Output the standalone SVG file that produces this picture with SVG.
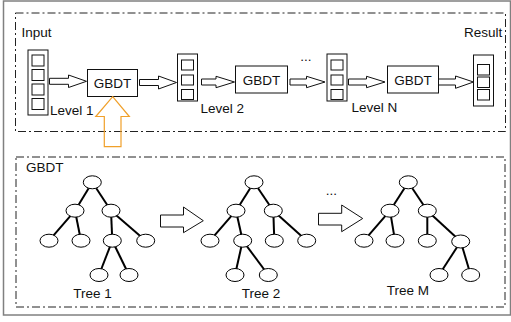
<svg xmlns="http://www.w3.org/2000/svg" width="511" height="322" viewBox="0 0 511 322">
<style>
text{font-family:"Liberation Sans",Arial,sans-serif;font-size:13.5px;fill:#111}
.frame{fill:none;stroke:#222;stroke-width:1;stroke-dasharray:8 3 2 3}
.box{fill:#fff;stroke:#111;stroke-width:1}
.cell{fill:#fff;stroke:#111;stroke-width:1}
.barrow{fill:#fff;stroke:#111;stroke-width:1;stroke-linejoin:miter}
.oarrow{fill:none;stroke:#F0A02A;stroke-width:1.2}
.edge{stroke:#000;stroke-width:2}
.tn{fill:#fff;stroke:#000;stroke-width:1}
.mid{text-anchor:middle}
</style>
<rect x="3.5" y="1" width="507" height="314" fill="#fff" stroke="#808080" stroke-width="1.5"/>
<rect class="frame" x="15.5" y="13" width="490" height="118.5"/>
<rect class="frame" x="16" y="157" width="489" height="150"/>

<g id="input">
<text x="21.5" y="37">Input</text>
<rect class="box" x="28" y="50" width="20" height="65"/>
<rect class="cell" x="32" y="55" width="12" height="11"/>
<rect class="cell" x="32" y="69.5" width="12" height="11"/>
<rect class="cell" x="32" y="84" width="12" height="11"/>
<rect class="cell" x="32" y="98.5" width="12" height="11"/>
</g>
<g id="gbdt1">
<rect class="box" x="87.5" y="69.5" width="50" height="27"/>
<text class="mid" x="112.5" y="88">GBDT</text>
<text x="50" y="115">Level 1</text>
</g>
<g id="vec2">
<rect class="box" x="177.5" y="54" width="20" height="47"/>
<rect class="cell" x="181.5" y="60" width="12" height="10"/>
<rect class="cell" x="181.5" y="75" width="12" height="10"/>
<rect class="cell" x="181.5" y="89.5" width="12" height="10"/>
</g>
<g id="gbdt2">
<rect class="box" x="235.5" y="66" width="52" height="27"/>
<text class="mid" x="261.5" y="84.5">GBDT</text>
<text x="200.5" y="113">Level 2</text>
</g>
<g id="vec3">
<rect class="box" x="327" y="54" width="20" height="47"/>
<rect class="cell" x="331" y="60" width="12" height="10"/>
<rect class="cell" x="331" y="75" width="12" height="10"/>
<rect class="cell" x="331" y="89.5" width="12" height="10"/>
<text class="mid" x="306" y="61">...</text>
</g>
<g id="gbdt3">
<rect class="box" x="387.5" y="66" width="51" height="27"/>
<text class="mid" x="413" y="84.5">GBDT</text>
<text x="351.5" y="112">Level N</text>
</g>
<g id="result">
<text x="464" y="37">Result</text>
<rect class="box" x="473.5" y="55" width="20" height="51"/>
<rect class="cell" x="477.5" y="64.5" width="12" height="10.5"/>
<rect class="cell" x="477.5" y="77" width="12" height="10.5"/>
<rect class="cell" x="477.5" y="89.5" width="12" height="10.5"/>
</g>

<g id="top-connectors">
<path class="barrow" d="M49.5,78.3 H68.5 V75 L86.5,81.3 L68.5,87.5 V84.3 H49.5 Z"/>
<path class="barrow" d="M139.5,79.5 H158.5 V76 L176.5,82.5 L158.5,89 V85.5 H139.5 Z"/>
<path class="barrow" d="M201.5,79 H216 V76.3 L234.5,82 L216,87.7 V85 H201.5 Z"/>
<path class="barrow" d="M290,79 H306.5 V76.3 L325,82 L306.5,87.7 V85 H290 Z"/>
<path class="barrow" d="M348.5,79 H366.5 V76.3 L385,82 L366.5,87.7 V85 H348.5 Z"/>
<path class="barrow" d="M438.5,79 H455.5 V76 L473.5,82 L455.5,88.3 V85 H438.5 Z"/>
<path class="oarrow" d="M112.7,96.7 L129.3,116.5 H121 V146.7 H104.3 V116.5 H95.8 Z"/>
</g>

<text x="26" y="172">GBDT</text>

<g id="tree1">
<g class="connectors">
<line class="edge" x1="92.3" y1="182.3" x2="75" y2="210.7"/>
<line class="edge" x1="92.3" y1="182.3" x2="111" y2="210.7"/>
<line class="edge" x1="75" y1="210.7" x2="49" y2="240.7"/>
<line class="edge" x1="75" y1="210.7" x2="81" y2="240.7"/>
<line class="edge" x1="111" y1="210.7" x2="112.3" y2="240.7"/>
<line class="edge" x1="111" y1="210.7" x2="145.7" y2="240.7"/>
<line class="edge" x1="112.3" y1="240.7" x2="99" y2="275"/>
<line class="edge" x1="112.3" y1="240.7" x2="129" y2="275"/>
</g>
<ellipse class="tn" cx="92.3" cy="182.3" rx="9" ry="6.5"/>
<ellipse class="tn" cx="75" cy="210.7" rx="9" ry="6.5"/>
<ellipse class="tn" cx="111" cy="210.7" rx="9" ry="6.5"/>
<ellipse class="tn" cx="49" cy="240.7" rx="9" ry="6.5"/>
<ellipse class="tn" cx="81" cy="240.7" rx="9" ry="6.5"/>
<ellipse class="tn" cx="112.3" cy="240.7" rx="9" ry="6.5"/>
<ellipse class="tn" cx="145.7" cy="240.7" rx="9" ry="6.5"/>
<ellipse class="tn" cx="99" cy="275" rx="9" ry="6.5"/>
<ellipse class="tn" cx="129" cy="275" rx="9" ry="6.5"/>
<text x="73.3" y="298">Tree 1</text>
</g>

<g id="tree2">
<g class="connectors">
<line class="edge" x1="254" y1="182.3" x2="236" y2="210.7"/>
<line class="edge" x1="254" y1="182.3" x2="273.3" y2="210.7"/>
<line class="edge" x1="236" y1="210.7" x2="210" y2="240.7"/>
<line class="edge" x1="236" y1="210.7" x2="242.7" y2="240.7"/>
<line class="edge" x1="273.3" y1="210.7" x2="274.3" y2="240.7"/>
<line class="edge" x1="273.3" y1="210.7" x2="306.7" y2="240.7"/>
<line class="edge" x1="242.7" y1="240.7" x2="235" y2="275"/>
<line class="edge" x1="242.7" y1="240.7" x2="268.3" y2="275"/>
</g>
<ellipse class="tn" cx="254" cy="182.3" rx="9" ry="6.5"/>
<ellipse class="tn" cx="236" cy="210.7" rx="9" ry="6.5"/>
<ellipse class="tn" cx="273.3" cy="210.7" rx="9" ry="6.5"/>
<ellipse class="tn" cx="210" cy="240.7" rx="9" ry="6.5"/>
<ellipse class="tn" cx="242.7" cy="240.7" rx="9" ry="6.5"/>
<ellipse class="tn" cx="274.3" cy="240.7" rx="9" ry="6.5"/>
<ellipse class="tn" cx="306.7" cy="240.7" rx="9" ry="6.5"/>
<ellipse class="tn" cx="235" cy="275" rx="9" ry="6.5"/>
<ellipse class="tn" cx="268.3" cy="275" rx="9" ry="6.5"/>
<text x="241.7" y="298">Tree 2</text>
</g>

<g id="treeM">
<g class="connectors">
<line class="edge" x1="408.3" y1="182.3" x2="390" y2="210.7"/>
<line class="edge" x1="408.3" y1="182.3" x2="427.3" y2="210.7"/>
<line class="edge" x1="390" y1="210.7" x2="364" y2="240.7"/>
<line class="edge" x1="390" y1="210.7" x2="395" y2="240.7"/>
<line class="edge" x1="427.3" y1="210.7" x2="427.3" y2="240.7"/>
<line class="edge" x1="427.3" y1="210.7" x2="460.7" y2="241.5"/>
<line class="edge" x1="460.7" y1="241.5" x2="439" y2="275"/>
<line class="edge" x1="460.7" y1="241.5" x2="470.7" y2="275"/>
</g>
<ellipse class="tn" cx="408.3" cy="182.3" rx="9" ry="6.5"/>
<ellipse class="tn" cx="390" cy="210.7" rx="9" ry="6.5"/>
<ellipse class="tn" cx="427.3" cy="210.7" rx="9" ry="6.5"/>
<ellipse class="tn" cx="364" cy="240.7" rx="9" ry="6.5"/>
<ellipse class="tn" cx="395" cy="240.7" rx="9" ry="6.5"/>
<ellipse class="tn" cx="427.3" cy="240.7" rx="9" ry="6.5"/>
<ellipse class="tn" cx="460.7" cy="241.5" rx="9" ry="6.5"/>
<ellipse class="tn" cx="439" cy="275" rx="9" ry="6.5"/>
<ellipse class="tn" cx="470.7" cy="275" rx="9" ry="6.5"/>
<text x="386.7" y="295">Tree M</text>
</g>

<g id="bottom-connectors">
<path class="barrow" d="M160.5,215 H183.5 V207 L203.3,220.7 L183.5,232.7 V227 H160.5 Z"/>
<path class="barrow" d="M318.5,213.3 H341.7 V205 L362.7,218.5 L341.7,231.7 V225 H318.5 Z"/>
<text class="mid" x="331.5" y="195">...</text>
</g>
</svg>
